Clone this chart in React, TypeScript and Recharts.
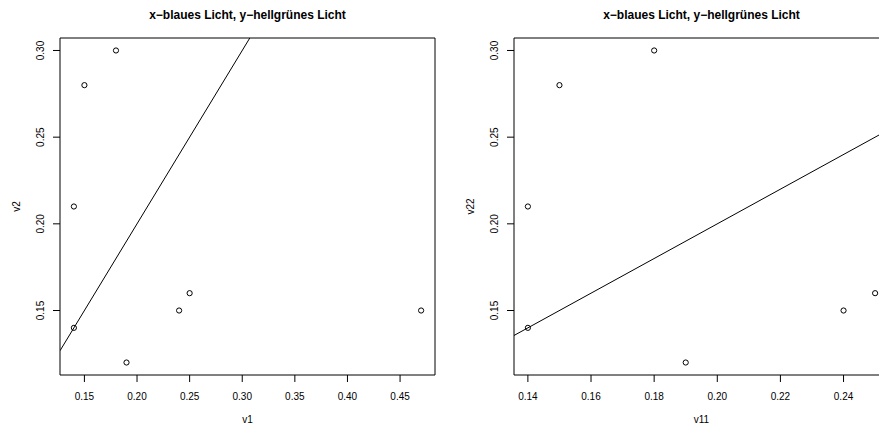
import React from "react";
import {
  ScatterChart,
  Scatter,
  XAxis,
  YAxis,
  ReferenceLine,
  ReferenceArea,
} from "recharts";

// left panel: v1 vs v2
const v1 = [0.14, 0.14, 0.15, 0.18, 0.19, 0.24, 0.25, 0.47];
const v2 = [0.14, 0.21, 0.28, 0.3, 0.12, 0.15, 0.16, 0.15];
const v1Ticks = [0.15, 0.2, 0.25, 0.3, 0.35, 0.4, 0.45];

// right panel: v11 vs v22
const v11 = [0.14, 0.14, 0.15, 0.18, 0.19, 0.24, 0.25];
const v22 = [0.14, 0.21, 0.28, 0.3, 0.12, 0.15, 0.16];
const v11Ticks = [0.14, 0.16, 0.18, 0.2, 0.22, 0.24];

const yTicks = [0.15, 0.2, 0.25, 0.3];

// abline(0, 1)
const ablineIntercept = 0;
const ablineSlope = 1;

const title = "x\u2212blaues Licht, y\u2212hellgrünes Licht";

const FONT = "'Liberation Sans', Arial, Helvetica, sans-serif";
const W = 460;
const H = 424;
const TOP = 38;
const LEFT = 60;
const RIGHT = 25;
const XH = 49;
const plotBottom = H - XH;
const plotCenterX = LEFT + (W - LEFT - RIGHT) / 2;
const plotCenterY = TOP + (plotBottom - TOP) / 2;

// R style range: data range extended by 4% each side
const rRange = (vals: number[]): [number, number] => {
  const lo = Math.min(...vals);
  const hi = Math.max(...vals);
  const pad = (hi - lo) * 0.04;
  return [lo - pad, hi + pad];
};

const Circle = (props: any) => (
  <circle cx={props.cx} cy={props.cy} r={2.6} fill="none" stroke="#000" strokeWidth={1} />
);

const XTick = (props: any) => (
  <text
    x={props.x}
    y={plotBottom + 24.5}
    textAnchor="middle"
    fontSize={10}
    fontFamily={FONT}
    fill="#000"
  >
    {props.payload.value.toFixed(2)}
  </text>
);

const YTick = (props: any) => (
  <text
    x={44.5}
    y={props.y}
    transform={`rotate(-90, 44.5, ${props.y})`}
    textAnchor="middle"
    fontSize={10}
    fontFamily={FONT}
    fill="#000"
  >
    {props.payload.value.toFixed(2)}
  </text>
);

const Panel = (props: any) => {
  const { xs, ys, xTicks, xName, yName } = props;
  const data = xs.map((x: number, i: number) => ({ x, y: ys[i] }));
  const xDomain = rRange(xs);
  const yDomain = rRange(ys);
  return (
    <ScatterChart
      width={W}
      height={H}
      margin={{ top: TOP, right: RIGHT, bottom: 0, left: 0 }}
    >
      <XAxis
        type="number"
        dataKey="x"
        domain={xDomain}
        ticks={xTicks}
        allowDataOverflow
        height={XH}
        tickSize={7}
        axisLine={false}
        tickLine={{ stroke: "#000" }}
        tick={<XTick />}
        interval={0}
      />
      <YAxis
        type="number"
        dataKey="y"
        domain={yDomain}
        ticks={yTicks}
        allowDataOverflow
        width={LEFT}
        tickSize={7}
        axisLine={false}
        tickLine={{ stroke: "#000" }}
        tick={<YTick />}
        interval={0}
      />
      <ReferenceArea
        x1={xDomain[0]}
        x2={xDomain[1]}
        y1={yDomain[0]}
        y2={yDomain[1]}
        fill="none"
        fillOpacity={0}
        stroke="#000"
        strokeWidth={1}
      />
      <ReferenceLine
        segment={[
          { x: xDomain[0], y: ablineIntercept + ablineSlope * xDomain[0] },
          { x: xDomain[1], y: ablineIntercept + ablineSlope * xDomain[1] },
        ]}
        stroke="#000"
        strokeWidth={1}
        ifOverflow="hidden"
      />
      <Scatter data={data} shape={<Circle />} isAnimationActive={false} />
      <text
        x={plotCenterX}
        y={18.5}
        textAnchor="middle"
        fontSize={12}
        fontWeight="bold"
        fontFamily={FONT}
        fill="#000"
      >
        {title}
      </text>
      <text
        x={plotCenterX}
        y={422.5}
        textAnchor="middle"
        fontSize={10}
        fontFamily={FONT}
        fill="#000"
      >
        {xName}
      </text>
      <text
        x={20}
        y={plotCenterY}
        transform={`rotate(-90, 20, ${plotCenterY})`}
        textAnchor="middle"
        fontSize={10}
        fontFamily={FONT}
        fill="#000"
      >
        {yName}
      </text>
    </ScatterChart>
  );
};

export default function App() {
  return (
    <div
      style={{
        position: "fixed",
        left: 0,
        top: 0,
        width: 879,
        height: 424,
        overflow: "hidden",
        background: "#fff",
      }}
    >
      <div style={{ position: "absolute", left: 0, top: 0 }}>
        <Panel xs={v1} ys={v2} xTicks={v1Ticks} xName="v1" yName="v2" />
      </div>
      <div style={{ position: "absolute", left: 454, top: 0 }}>
        <Panel xs={v11} ys={v22} xTicks={v11Ticks} xName="v11" yName="v22" />
      </div>
    </div>
  );
}
